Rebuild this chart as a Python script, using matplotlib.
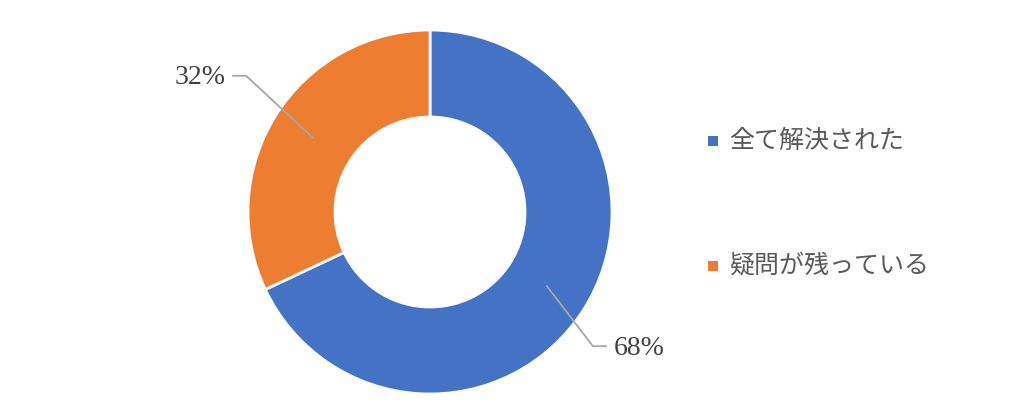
import numpy as np
import matplotlib
matplotlib.use("Agg")
import matplotlib.pyplot as plt
from matplotlib.patches import Rectangle

labels = ["全て解決された", "疑問が残っている"]
values = [68, 32]
pct_labels = ["68%", "32%"]
colors = ["#4472C4", "#ED7D31"]

W, H = 1024, 407
fig = plt.figure(figsize=(W / 100, H / 100), dpi=100)
ax = fig.add_axes([0, 0, 1, 1])

cx, cy = 430, H - 212
R, r_in = 182, 95
wedges, _ = ax.pie(values, colors=colors, startangle=90, counterclock=False,
                   center=(cx, cy), radius=R,
                   wedgeprops=dict(width=R - r_in, edgecolor="white", linewidth=2))
ax.set_xlim(0, W)
ax.set_ylim(0, H)
ax.set_aspect("equal")
ax.axis("off")

txt_color = "#404040"
line_color = "#A6A6A6"
rm = (R + r_in) / 2
for w, lab in zip(wedges, pct_labels):
    ang = np.deg2rad((w.theta1 + w.theta2) / 2)
    px, py = cx + rm * np.cos(ang), cy + rm * np.sin(ang)
    if np.cos(ang) > 0:
        kx, ky = px + 46, py - 60
        ex = kx + 13
        ax.plot([px, kx, ex], [py, ky, ky], color=line_color, lw=1.3)
        ax.text(ex + 8, ky - 2, lab, ha="left", va="center", fontsize=20,
                family="Liberation Serif", color=txt_color)
    else:
        kx, ky = px - 67, py + 62
        ex = kx - 13
        ax.plot([px, kx, ex], [py, ky, ky], color=line_color, lw=1.3)
        ax.text(ex - 7, ky - 2, lab, ha="right", va="center", fontsize=20,
                family="Liberation Serif", color=txt_color)

leg_y = [H - 141, H - 266]
for lab, c, yy in zip(labels, colors, leg_y):
    ax.add_patch(Rectangle((708, yy - 5), 10, 10, facecolor=c, edgecolor="none"))
    ax.text(729, yy, lab, ha="left", va="center", fontsize=18,
            family=["Noto Sans CJK JP", "DejaVu Sans"], color="#595959")

fig.savefig("out.png", dpi=100)
